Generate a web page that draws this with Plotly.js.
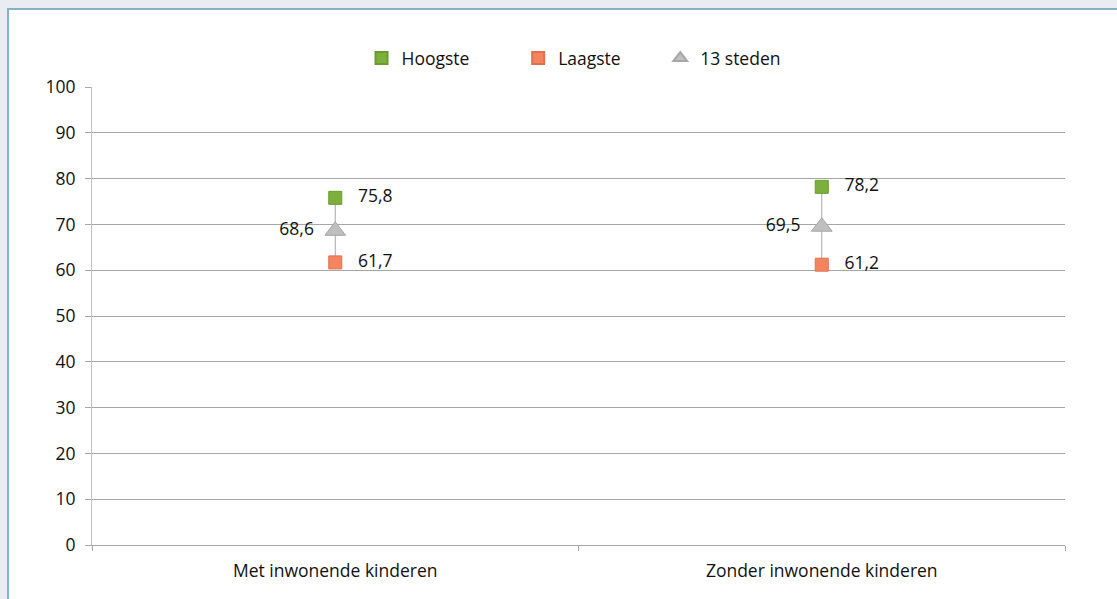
<!DOCTYPE html>
<html>
<head>
<meta charset="utf-8">
<script src="https://cdn.plot.ly/plotly-3.0.1.min.js"></script>
<style>
  html, body { margin: 0; padding: 0; width: 1117px; height: 599px; overflow: hidden; background: #e9edf1; }
  #panel { position: absolute; left: 7px; top: 8px; width: 1110px; height: 591px; background: #ffffff; border-left: 2px solid #86b2c8; border-top: 2px solid #86b2c8; box-sizing: border-box; }
  #chart { position: absolute; left: 0; top: 0; width: 1117px; height: 599px; }
</style>
</head>
<body>
<div id="panel"></div>
<div id="chart"></div>
<script>
const categories = ["Met inwonende kinderen", "Zonder inwonende kinderen"];
const hoogste = [75.8, 78.2];
const laagste = [61.7, 61.2];
const steden = [68.6, 69.5];
const yTicks = [0, 10, 20, 30, 40, 50, 60, 70, 80, 90, 100];

const font = { family: "Open Sans, Noto Sans, sans-serif", size: 17.5, color: "#111111" };
const NB = "\u00a0";

const traces = [
  {
    name: "13 steden", x: categories, y: steden, type: "scatter", mode: "markers+text",
    marker: { symbol: "triangle-up", size: 18, color: "#bfbfbf", line: { color: "#a6a6a6", width: 1 } },
    texttemplate: "%{y:.1f}" + NB + NB, textposition: "middle left", textfont: font,
    error_y: { type: "data", symmetric: false,
      array: hoogste.map((h, i) => h - steden[i]),
      arrayminus: laagste.map((l, i) => steden[i] - l),
      width: 0, thickness: 1, color: "#a6a6a6" },
    legend: "legend3", cliponaxis: false, hoverinfo: "skip"
  },
  {
    name: "Hoogste", x: categories, y: hoogste, type: "scatter", mode: "markers+text",
    marker: { symbol: "square", size: 13, color: "#7caf3c", line: { color: "#6a9a30", width: 1 } },
    texttemplate: NB + NB + NB + "%{y:.1f}", textposition: "middle right", textfont: font,
    legend: "legend", cliponaxis: false, hoverinfo: "skip"
  },
  {
    name: "Laagste", x: categories, y: laagste, type: "scatter", mode: "markers+text",
    marker: { symbol: "square", size: 13, color: "#f3845f", line: { color: "#e07050", width: 1 } },
    texttemplate: NB + NB + NB + "%{y:.1f}", textposition: "middle right", textfont: font,
    legend: "legend2", cliponaxis: false, hoverinfo: "skip"
  }
];

const legBase = { orientation: "h", yanchor: "middle", y: 1.063, xanchor: "left", font: font, bgcolor: "rgba(0,0,0,0)", itemwidth: 30, itemsizing: "constant" };

const layout = {
  width: 1117, height: 599,
  margin: { l: 92, r: 52, t: 87, b: 54 },
  paper_bgcolor: "rgba(0,0,0,0)", plot_bgcolor: "rgba(0,0,0,0)",
  separators: ",.",
  font: font,
  showlegend: true,
  legend: Object.assign({}, legBase, { x: 0.277 }),
  legend2: Object.assign({}, legBase, { x: 0.438 }),
  legend3: Object.assign({}, legBase, { x: 0.584 }),
  xaxis: {
    type: "category", range: [-0.5, 1.5], tickson: "boundaries",
    ticks: "outside", ticklen: 5, tickcolor: "#a6a6a6",
    showline: true, linecolor: "#a6a6a6", linewidth: 1,
    showgrid: false, zeroline: false, tickfont: font, fixedrange: true,
    ticklabelstandoff: 10
  },
  yaxis: {
    range: [0, 100], tickvals: yTicks, ticktext: yTicks.map(String),
    ticks: "outside", ticklen: 6, tickcolor: "#a6a6a6",
    showline: true, linecolor: "#bfbfbf", linewidth: 1,
    showgrid: true, gridcolor: "#a6a6a6", gridwidth: 1,
    zeroline: false, tickfont: font, fixedrange: true,
    ticklabelstandoff: 6
  }
};

Plotly.newPlot("chart", traces, layout, { displayModeBar: false, staticPlot: true });
</script>
</body>
</html>
